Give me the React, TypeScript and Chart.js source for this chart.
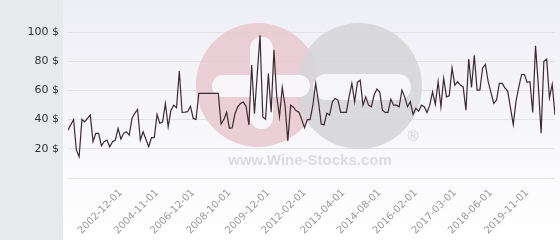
import React, { useEffect, useRef } from 'react';
import { Chart, registerables } from 'chart.js';

Chart.register(...registerables);

// Price series (USD), one value per quote, oldest first
const PRICES: number[] = [
  32.8, 36.5, 40.1, 19.2, 14.6, 40.1, 38.5, 40.8, 43.1, 24.9,
  30.6, 30.6, 22.1, 24.9, 26.0, 21.4, 24.9, 26.0, 34.0, 26.7,
  30.6, 31.7, 29.4, 40.8, 44.3, 47.0, 26.0, 31.7, 26.5, 21.4,
  27.6, 27.6, 43.6, 37.4, 38.5, 51.1, 35.1, 46.5, 49.9, 48.1,
  73.2, 44.9, 45.1, 45.4, 49.2, 40.8, 40.1, 57.9, 57.9, 57.9,
  57.9, 57.9, 57.9, 57.9, 57.9, 37.0, 40.0, 45.0, 34.0, 34.4,
  44.0, 48.8, 51.1, 52.0, 49.0, 36.3, 77.3, 44.0, 71.0, 97.8,
  41.9, 40.2, 71.6, 45.0, 87.6, 56.0, 42.0, 62.0, 49.5, 25.4,
  49.9, 48.5, 46.0, 45.0, 40.0, 34.5, 40.0, 40.0, 50.0, 64.8,
  52.2, 37.0, 36.3, 44.3, 43.1, 52.2, 54.5, 53.4, 44.9, 44.9,
  44.9, 55.6, 64.8, 52.2, 65.5, 67.0, 49.9, 55.6, 49.9, 48.8,
  56.8, 60.9, 59.0, 46.5, 44.9, 44.9, 54.0, 49.9, 49.9, 48.8,
  60.2, 55.6, 48.8, 52.2, 43.6, 47.7, 45.8, 49.9, 48.8, 44.9,
  49.9, 59.0, 50.4, 65.9, 48.8, 68.2, 55.6, 56.3, 75.4, 63.6,
  65.9, 63.6, 62.4, 46.5, 81.5, 62.0, 84.0, 60.2, 60.2, 75.4,
  77.8, 65.9, 58.5, 51.1, 53.4, 64.8, 64.8, 61.8, 59.5, 48.0,
  36.7, 52.7, 62.4, 70.9, 70.9, 65.5, 65.9, 44.9, 90.5, 63.6,
  30.6, 80.0, 81.4, 54.9, 64.1, 43.1,
];

// Dates shown on the x axis, and the quote index each one belongs to
const TICK_LABELS: string[] = [
  '2002-12-01', '2004-11-01', '2006-12-01', '2008-10-01', '2009-12-01', '2012-02-01',
  '2013-04-01', '2014-08-01', '2016-02-01', '2017-03-01', '2018-06-01', '2019-11-01',
];
const TICK_INDEX: number[] = [19, 32, 45, 58, 72, 85, 99, 112, 125, 139, 152, 165];

// Y axis values
const Y_TICKS: number[] = [0, 20, 40, 60, 80, 100];

const FONT = 'DejaVu Sans';

const backgroundPlugin = {
  id: 'bgPanels',
  beforeDraw(chart: any) {
    const { ctx, width, height } = chart;
    ctx.save();
    const g = ctx.createLinearGradient(0, 0, 0, height);
    g.addColorStop(0, '#eeeef5');
    g.addColorStop(1, '#ffffff');
    ctx.fillStyle = g;
    ctx.fillRect(0, 0, width, height);
    ctx.fillStyle = '#e6eaed';
    ctx.fillRect(0, 0, 63, height);
    ctx.restore();
  },
};

function roundRect(ctx: CanvasRenderingContext2D, x: number, y: number, w: number, h: number, r: number) {
  ctx.beginPath();
  ctx.moveTo(x + r, y);
  ctx.lineTo(x + w - r, y);
  ctx.arc(x + w - r, y + r, r, -Math.PI / 2, 0);
  ctx.lineTo(x + w, y + h - r);
  ctx.arc(x + w - r, y + h - r, r, 0, Math.PI / 2);
  ctx.lineTo(x + r, y + h);
  ctx.arc(x + r, y + h - r, r, Math.PI / 2, Math.PI);
  ctx.lineTo(x, y + r);
  ctx.arc(x + r, y + r, r, Math.PI, Math.PI * 1.5);
  ctx.closePath();
}

const watermarkPlugin = {
  id: 'watermark',
  beforeDatasetsDraw(chart: any) {
    const { ctx } = chart;
    ctx.save();
    // pink disc
    ctx.globalAlpha = 0.85;
    ctx.fillStyle = '#e9c8d0';
    ctx.beginPath();
    ctx.arc(258, 85, 62, 0, Math.PI * 2);
    ctx.fill();
    // grey disc
    ctx.fillStyle = '#d5d5d7';
    ctx.beginPath();
    ctx.arc(359, 86, 63, 0, Math.PI * 2);
    ctx.fill();
    // white cut-outs
    ctx.globalAlpha = 0.92;
    ctx.fillStyle = '#f8f8fb';
    roundRect(ctx, 250, 37, 23, 92, 11);
    ctx.fill();
    roundRect(ctx, 212, 75, 98, 22, 11);
    ctx.fill();
    roundRect(ctx, 313, 74, 98, 26, 13);
    ctx.fill();
    // text
    ctx.globalAlpha = 1;
    ctx.fillStyle = '#dcdcdc';
    ctx.font = 'bold 15px "Liberation Sans", Arial, sans-serif';
    ctx.textAlign = 'center';
    ctx.textBaseline = 'middle';
    ctx.fillText('www.Wine-Stocks.com', 310, 161);
    ctx.font = '15px "Liberation Sans", Arial, sans-serif';
    ctx.fillStyle = '#d2d2d2';
    ctx.fillText('®', 413, 137);
    ctx.restore();
  },
};

export default function App() {
  const ref = useRef<HTMLCanvasElement>(null);

  useEffect(() => {
    document.body.style.margin = '0';
    const canvas = ref.current;
    if (!canvas) return;
    const data = PRICES.map((v, i) => ({ x: i, y: v }));
    const chart = new Chart(canvas, {
      type: 'line',
      data: {
        datasets: [
          {
            data,
            borderColor: '#3b2a31',
            borderWidth: 1.2,
            pointRadius: 0,
            tension: 0,
            fill: false,
          },
        ],
      },
      options: {
        responsive: false,
        animation: false,
        devicePixelRatio: 1,
        layout: { padding: { top: 32, right: 5, left: 0, bottom: 0 } },
        plugins: { legend: { display: false }, tooltip: { enabled: false } },
        scales: {
          x: {
            type: 'linear',
            min: 0,
            max: PRICES.length - 1,
            grid: { display: false },
            border: { display: false },
            afterBuildTicks(scale: any) {
              scale.ticks = TICK_INDEX.map((v) => ({ value: v }));
            },
            afterFit(scale: any) {
              scale.height = 62;
            },
            ticks: {
              autoSkip: false,
              minRotation: 45,
              maxRotation: 45,
              padding: 1,
              color: '#9a9a9a',
              font: { family: FONT, size: 10 },
              callback: (v: any) => {
                const i = TICK_INDEX.indexOf(Number(v));
                return i >= 0 ? TICK_LABELS[i] : '';
              },
            },
          },
          y: {
            min: Y_TICKS[0],
            max: Y_TICKS[Y_TICKS.length - 1],
            afterBuildTicks(scale: any) {
              scale.ticks = Y_TICKS.map((v) => ({ value: v }));
            },
            afterFit(scale: any) {
              scale.width = 68;
            },
            grid: { color: '#e2e2e4', lineWidth: 1, drawTicks: false },
            border: { display: false },
            ticks: {
              padding: 9,
              color: '#333333',
              font: { family: FONT, size: 11 },
              callback: (v: any) => (Number(v) === 0 ? '' : `${v} $`),
            },
          },
        },
      },
      plugins: [backgroundPlugin, watermarkPlugin],
    });
    return () => chart.destroy();
  }, []);

  return (
    <div style={{ width: 560, height: 240 }}>
      <canvas ref={ref} width={560} height={240} style={{ display: 'block' }} />
    </div>
  );
}
